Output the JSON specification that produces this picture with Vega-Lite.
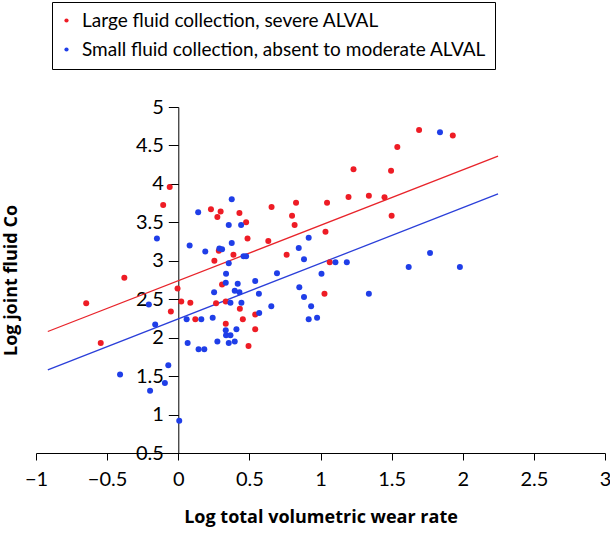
{
  "$schema": "https://vega.github.io/schema/vega-lite/v6.json",
  "width": 569,
  "height": 346,
  "autosize": "none",
  "padding": {"left": 36, "top": 107, "right": 5, "bottom": 81},
  "config": {"view": {"stroke": null}, "font": "Lato"},
  "encoding": {
    "x": {
      "field": "x", "type": "quantitative",
      "scale": {"domain": [-1, 3], "nice": false, "zero": false},
      "axis": {
        "title": "Log total volumetric wear rate",
        "values": [-1, -0.5, 0, 0.5, 1, 1.5, 2, 2.5, 3],
        "format": "~g", "grid": false,
        "tickSize": 7, "tickColor": "black", "domainColor": "black",
        "labelPadding": 9, "labelFontSize": 20, "labelColor": "black",
        "labelFlush": false, "labelOverlap": false,
        "titleFont": "Open Sans", "titleFontSize": 18, "titleFontWeight": "bold", "titleColor": "black",
        "titleY": 69, "titleBaseline": "alphabetic"
      }
    },
    "y": {
      "field": "y", "type": "quantitative",
      "scale": {"domain": [0.5, 5], "nice": false, "zero": false},
      "axis": {
        "title": "Log joint fluid Co",
        "values": [0.5, 1, 1.5, 2, 2.5, 3, 3.5, 4, 4.5, 5],
        "format": "~g", "grid": false, "offset": -142.3,
        "tickSize": 10, "tickColor": "black", "domainColor": "black",
        "labelPadding": 5, "labelFontSize": 20, "labelColor": "black",
        "labelFlush": false, "labelOverlap": false,
        "titleFont": "Open Sans", "titleFontSize": 18, "titleFontWeight": "bold", "titleColor": "black",
        "titleX": -162, "titleY": 173, "titleAngle": 270,
        "titleBaseline": "alphabetic", "titleAlign": "center"
      }
    }
  },
  "layer": [
    {
      "data": {"values": [
        {"group": "Large fluid collection, severe ALVAL", "x": -0.917, "y": 2.08},
        {"group": "Large fluid collection, severe ALVAL", "x": 2.248, "y": 4.36}
      ]},
      "mark": {"type": "line", "strokeWidth": 1.3, "color": "#e8242b"},
      "encoding": {}
    },
    {
      "data": {"values": [
        {"group": "Small fluid collection, absent to moderate ALVAL", "x": -0.917, "y": 1.58},
        {"group": "Small fluid collection, absent to moderate ALVAL", "x": 2.248, "y": 3.87}
      ]},
      "mark": {"type": "line", "strokeWidth": 1.3, "color": "#2b3fd9"},
      "encoding": {}
    },
    {
      "data": {"values": [
        {"group": "Large fluid collection, severe ALVAL", "x": -0.06, "y": 3.96},
        {"group": "Large fluid collection, severe ALVAL", "x": -0.106, "y": 3.725},
        {"group": "Large fluid collection, severe ALVAL", "x": -0.379, "y": 2.78},
        {"group": "Large fluid collection, severe ALVAL", "x": -0.005, "y": 2.64},
        {"group": "Large fluid collection, severe ALVAL", "x": -0.647, "y": 2.447},
        {"group": "Large fluid collection, severe ALVAL", "x": -0.545, "y": 1.93},
        {"group": "Large fluid collection, severe ALVAL", "x": 0.021, "y": 2.47},
        {"group": "Large fluid collection, severe ALVAL", "x": 0.085, "y": 2.455},
        {"group": "Large fluid collection, severe ALVAL", "x": -0.052, "y": 2.34},
        {"group": "Large fluid collection, severe ALVAL", "x": 0.12, "y": 2.24},
        {"group": "Large fluid collection, severe ALVAL", "x": 0.23, "y": 3.67},
        {"group": "Large fluid collection, severe ALVAL", "x": 0.298, "y": 3.64},
        {"group": "Large fluid collection, severe ALVAL", "x": 0.275, "y": 3.57},
        {"group": "Large fluid collection, severe ALVAL", "x": 0.43, "y": 3.62},
        {"group": "Large fluid collection, severe ALVAL", "x": 0.477, "y": 3.5},
        {"group": "Large fluid collection, severe ALVAL", "x": 0.656, "y": 3.7},
        {"group": "Large fluid collection, severe ALVAL", "x": 0.828, "y": 3.755},
        {"group": "Large fluid collection, severe ALVAL", "x": 0.8, "y": 3.586},
        {"group": "Large fluid collection, severe ALVAL", "x": 0.818, "y": 3.465},
        {"group": "Large fluid collection, severe ALVAL", "x": 1.046, "y": 3.755},
        {"group": "Large fluid collection, severe ALVAL", "x": 1.197, "y": 3.83},
        {"group": "Large fluid collection, severe ALVAL", "x": 1.232, "y": 4.19},
        {"group": "Large fluid collection, severe ALVAL", "x": 1.34, "y": 3.846},
        {"group": "Large fluid collection, severe ALVAL", "x": 1.496, "y": 4.17},
        {"group": "Large fluid collection, severe ALVAL", "x": 1.54, "y": 4.48},
        {"group": "Large fluid collection, severe ALVAL", "x": 1.45, "y": 3.825},
        {"group": "Large fluid collection, severe ALVAL", "x": 1.5, "y": 3.586},
        {"group": "Large fluid collection, severe ALVAL", "x": 1.035, "y": 3.378},
        {"group": "Large fluid collection, severe ALVAL", "x": 0.487, "y": 3.29},
        {"group": "Large fluid collection, severe ALVAL", "x": 0.633, "y": 3.257},
        {"group": "Large fluid collection, severe ALVAL", "x": 0.285, "y": 3.13},
        {"group": "Large fluid collection, severe ALVAL", "x": 0.388, "y": 3.08},
        {"group": "Large fluid collection, severe ALVAL", "x": 0.254, "y": 3.0},
        {"group": "Large fluid collection, severe ALVAL", "x": 0.762, "y": 3.08},
        {"group": "Large fluid collection, severe ALVAL", "x": 1.065, "y": 2.98},
        {"group": "Large fluid collection, severe ALVAL", "x": 0.308, "y": 2.69},
        {"group": "Large fluid collection, severe ALVAL", "x": 1.028, "y": 2.57},
        {"group": "Large fluid collection, severe ALVAL", "x": 0.266, "y": 2.447},
        {"group": "Large fluid collection, severe ALVAL", "x": 0.334, "y": 2.47},
        {"group": "Large fluid collection, severe ALVAL", "x": 0.433, "y": 2.376},
        {"group": "Large fluid collection, severe ALVAL", "x": 0.541, "y": 2.3},
        {"group": "Large fluid collection, severe ALVAL", "x": 0.454, "y": 2.24},
        {"group": "Large fluid collection, severe ALVAL", "x": 0.541, "y": 2.11},
        {"group": "Large fluid collection, severe ALVAL", "x": 0.334, "y": 2.18},
        {"group": "Large fluid collection, severe ALVAL", "x": 0.494, "y": 1.89},
        {"group": "Large fluid collection, severe ALVAL", "x": 1.693, "y": 4.7},
        {"group": "Large fluid collection, severe ALVAL", "x": 1.93, "y": 4.63},
        {"group": "Small fluid collection, absent to moderate ALVAL", "x": -0.15, "y": 3.29},
        {"group": "Small fluid collection, absent to moderate ALVAL", "x": 0.14, "y": 3.63},
        {"group": "Small fluid collection, absent to moderate ALVAL", "x": 0.08, "y": 3.2},
        {"group": "Small fluid collection, absent to moderate ALVAL", "x": -0.207, "y": 2.43},
        {"group": "Small fluid collection, absent to moderate ALVAL", "x": 0.059, "y": 2.24},
        {"group": "Small fluid collection, absent to moderate ALVAL", "x": -0.162, "y": 2.17},
        {"group": "Small fluid collection, absent to moderate ALVAL", "x": 0.066, "y": 1.93},
        {"group": "Small fluid collection, absent to moderate ALVAL", "x": 0.143, "y": 1.85},
        {"group": "Small fluid collection, absent to moderate ALVAL", "x": 0.183, "y": 1.85},
        {"group": "Small fluid collection, absent to moderate ALVAL", "x": -0.409, "y": 1.52},
        {"group": "Small fluid collection, absent to moderate ALVAL", "x": -0.07, "y": 1.64},
        {"group": "Small fluid collection, absent to moderate ALVAL", "x": -0.094, "y": 1.41},
        {"group": "Small fluid collection, absent to moderate ALVAL", "x": -0.198, "y": 1.31},
        {"group": "Small fluid collection, absent to moderate ALVAL", "x": 0.007, "y": 0.92},
        {"group": "Small fluid collection, absent to moderate ALVAL", "x": 0.376, "y": 3.8},
        {"group": "Small fluid collection, absent to moderate ALVAL", "x": 0.355, "y": 3.465},
        {"group": "Small fluid collection, absent to moderate ALVAL", "x": 0.442, "y": 3.465},
        {"group": "Small fluid collection, absent to moderate ALVAL", "x": 0.376, "y": 3.23},
        {"group": "Small fluid collection, absent to moderate ALVAL", "x": 0.19, "y": 3.12},
        {"group": "Small fluid collection, absent to moderate ALVAL", "x": 0.289, "y": 3.16},
        {"group": "Small fluid collection, absent to moderate ALVAL", "x": 0.308, "y": 3.15},
        {"group": "Small fluid collection, absent to moderate ALVAL", "x": 0.459, "y": 3.06},
        {"group": "Small fluid collection, absent to moderate ALVAL", "x": 0.477, "y": 3.06},
        {"group": "Small fluid collection, absent to moderate ALVAL", "x": 0.355, "y": 2.967},
        {"group": "Small fluid collection, absent to moderate ALVAL", "x": 0.917, "y": 3.3},
        {"group": "Small fluid collection, absent to moderate ALVAL", "x": 0.847, "y": 3.166},
        {"group": "Small fluid collection, absent to moderate ALVAL", "x": 0.884, "y": 3.02},
        {"group": "Small fluid collection, absent to moderate ALVAL", "x": 1.105, "y": 2.98},
        {"group": "Small fluid collection, absent to moderate ALVAL", "x": 1.185, "y": 2.98},
        {"group": "Small fluid collection, absent to moderate ALVAL", "x": 1.007, "y": 2.83},
        {"group": "Small fluid collection, absent to moderate ALVAL", "x": 0.694, "y": 2.837},
        {"group": "Small fluid collection, absent to moderate ALVAL", "x": 0.541, "y": 2.737},
        {"group": "Small fluid collection, absent to moderate ALVAL", "x": 0.336, "y": 2.83},
        {"group": "Small fluid collection, absent to moderate ALVAL", "x": 0.334, "y": 2.715},
        {"group": "Small fluid collection, absent to moderate ALVAL", "x": 0.418, "y": 2.7},
        {"group": "Small fluid collection, absent to moderate ALVAL", "x": 0.851, "y": 2.655},
        {"group": "Small fluid collection, absent to moderate ALVAL", "x": 1.34, "y": 2.57},
        {"group": "Small fluid collection, absent to moderate ALVAL", "x": 0.252, "y": 2.59},
        {"group": "Small fluid collection, absent to moderate ALVAL", "x": 0.397, "y": 2.61},
        {"group": "Small fluid collection, absent to moderate ALVAL", "x": 0.43, "y": 2.59},
        {"group": "Small fluid collection, absent to moderate ALVAL", "x": 0.367, "y": 2.455},
        {"group": "Small fluid collection, absent to moderate ALVAL", "x": 0.444, "y": 2.455},
        {"group": "Small fluid collection, absent to moderate ALVAL", "x": 0.567, "y": 2.57},
        {"group": "Small fluid collection, absent to moderate ALVAL", "x": 0.654, "y": 2.41},
        {"group": "Small fluid collection, absent to moderate ALVAL", "x": 0.569, "y": 2.32},
        {"group": "Small fluid collection, absent to moderate ALVAL", "x": 0.242, "y": 2.26},
        {"group": "Small fluid collection, absent to moderate ALVAL", "x": 0.162, "y": 2.24},
        {"group": "Small fluid collection, absent to moderate ALVAL", "x": 0.334, "y": 2.095},
        {"group": "Small fluid collection, absent to moderate ALVAL", "x": 0.336, "y": 2.03},
        {"group": "Small fluid collection, absent to moderate ALVAL", "x": 0.367, "y": 2.03},
        {"group": "Small fluid collection, absent to moderate ALVAL", "x": 0.409, "y": 2.11},
        {"group": "Small fluid collection, absent to moderate ALVAL", "x": 0.355, "y": 1.93},
        {"group": "Small fluid collection, absent to moderate ALVAL", "x": 0.397, "y": 1.95},
        {"group": "Small fluid collection, absent to moderate ALVAL", "x": 0.275, "y": 1.95},
        {"group": "Small fluid collection, absent to moderate ALVAL", "x": 0.884, "y": 2.53},
        {"group": "Small fluid collection, absent to moderate ALVAL", "x": 0.934, "y": 2.41},
        {"group": "Small fluid collection, absent to moderate ALVAL", "x": 0.917, "y": 2.24},
        {"group": "Small fluid collection, absent to moderate ALVAL", "x": 0.976, "y": 2.26},
        {"group": "Small fluid collection, absent to moderate ALVAL", "x": 1.84, "y": 4.67},
        {"group": "Small fluid collection, absent to moderate ALVAL", "x": 1.77, "y": 3.1},
        {"group": "Small fluid collection, absent to moderate ALVAL", "x": 1.62, "y": 2.92},
        {"group": "Small fluid collection, absent to moderate ALVAL", "x": 1.98, "y": 2.92}
      ]},
      "mark": {"type": "point", "filled": true, "size": 36, "opacity": 1},
      "encoding": {
        "color": {
          "field": "group", "type": "nominal",
          "scale": {"domain": ["Large fluid collection, severe ALVAL", "Small fluid collection, absent to moderate ALVAL"], "range": ["#ee1c25", "#1f3ee8"]},
          "legend": {
            "orient": "none", "legendX": 16, "legendY": -105, "title": null,
            "strokeColor": "black", "fillColor": "white",
            "padding": 9, "labelFontSize": 19, "labelColor": "black", "labelLimit": 700,
            "symbolType": "circle", "symbolSize": 18, "symbolOffset": -4, "rowPadding": 9,
            "labelOffset": 6
          }
        }
      }
    }
  ]
}
